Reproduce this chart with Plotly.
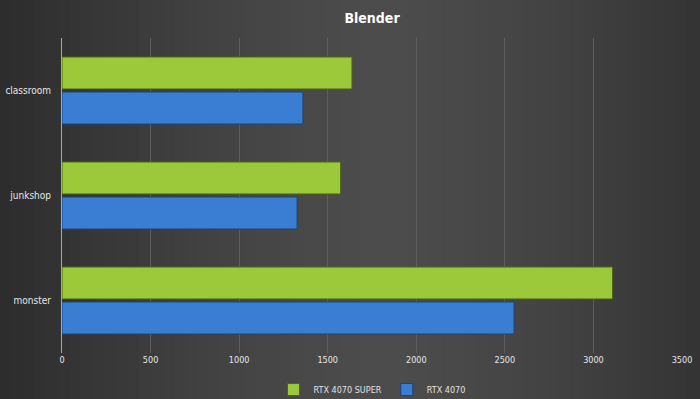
import plotly.graph_objects as go
import numpy as np

categories = ["classroom", "junkshop", "monster"]
rtx_4070_super = [1637, 1573, 3108]
rtx_4070 = [1360, 1327, 2552]
series_names = ["RTX 4070 SUPER", "RTX 4070"]
x_ticks = [0, 500, 1000, 1500, 2000, 2500, 3000, 3500]

FONT = "DejaVu Sans Condensed, Roboto, sans-serif"

fig = go.Figure()
fig.add_trace(go.Bar(
    y=categories, x=rtx_4070_super, name=series_names[0], orientation="h",
    marker=dict(color="#9cc93a", line=dict(color="#4d6418", width=1)),
))
fig.add_trace(go.Bar(
    y=categories, x=rtx_4070, name=series_names[1], orientation="h",
    marker=dict(color="#3a7ed3", line=dict(color="#1d4478", width=1)),
))

# background gradient strips (darker edges, lighter centre)
W, L, R = 620.0, 62.0, 18.0
x0p = -L / W
x1p = (W + R) / W
n = 60
shapes = []
edges = np.linspace(x0p, x1p, n + 1)
for i in range(n):
    t = (i + 0.5) / n
    d = abs(t - 0.55) / 0.55
    v = int(round(76 - 32 * d ** 1.4))
    col = f"rgb({v},{v},{v})"
    shapes.append(dict(type="rect", xref="paper", yref="paper",
                       x0=edges[i] - 0.002, x1=edges[i + 1] + 0.002, y0=-0.3, y1=1.3,
                       fillcolor=col, line=dict(width=0), layer="below"))

fig.update_layout(
    width=700, height=399,
    margin=dict(l=62, r=18, t=38, b=46, autoexpand=False),
    paper_bgcolor="#3c3c3c",
    plot_bgcolor="rgba(0,0,0,0)",
    shapes=shapes,
    title=dict(text="<b>Blender</b>", x=0.5, xref="paper", xanchor="center", y=0.955, yanchor="middle",
               font=dict(family=FONT, size=14, color="#ffffff")),
    barmode="group",
    bargap=0.333,
    bargroupgap=0.086,
    showlegend=True,
    legend=dict(orientation="h", x=0.5, xanchor="center", y=-0.07, yanchor="top",
                xref="paper", font=dict(family=FONT, size=9, color="#e0e0e0"),
                bgcolor="rgba(0,0,0,0)", itemwidth=30, tracegroupgap=0),
    xaxis=dict(range=[0, 3500], tickvals=x_ticks, ticktext=[str(v) for v in x_ticks],
               showgrid=True, gridcolor="#5e5e5e", gridwidth=1, zeroline=False,
               showline=False, ticks="", tickfont=dict(family=FONT, size=9, color="#e6e6e6"),
               automargin=False, fixedrange=True),
    yaxis=dict(autorange="reversed", showgrid=False, showline=True, linecolor="#a8a8a8",
               linewidth=1, ticks="", tickfont=dict(family=FONT, size=10, color="#e6e6e6"),
               ticklabelstandoff=8, automargin=False),
)

fig.write_html("out.html", config={"displayModeBar": False},
               post_script="document.body.style.margin='0';document.body.style.overflow='hidden';")
